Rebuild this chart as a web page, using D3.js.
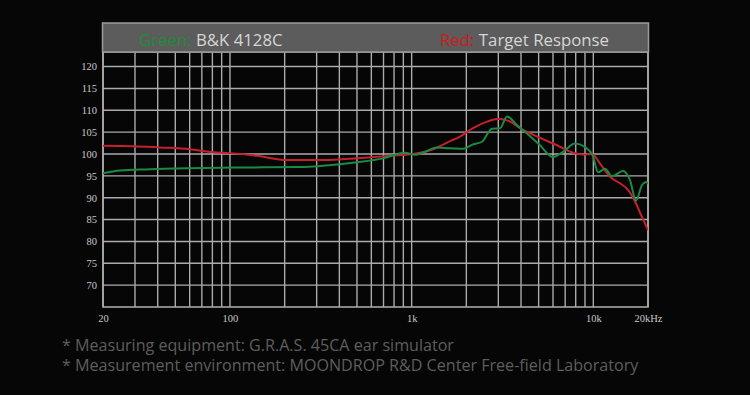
<!DOCTYPE html>
<html><head><meta charset="utf-8">
<script src="https://cdn.jsdelivr.net/npm/d3@7/dist/d3.min.js"></script>
<style>html,body{margin:0;padding:0;background:#060606;}svg{display:block;}</style>
</head><body>
<svg id="c" width="750" height="395"></svg>
<script>
// Data
const greenFreq = [20, 24.8, 36.3, 48.6, 104, 243, 325, 500, 696, 918, 1042, 1154, 1379, 1626, 1918, 2176, 2440, 2768, 3064, 3348, 3800, 4316, 5088, 5998, 6810, 7925, 8996, 9956, 10616, 11594, 12680, 14560, 15920, 17180, 18530, 19500, 20000];
const greenDb   = [95.6, 96.2, 96.5, 96.7, 96.9, 97.0, 97.3, 98.1, 99.0, 100.3, 99.8, 100.3, 101.5, 101.3, 101.2, 102.2, 102.8, 105.8, 105.9, 108.6, 106.6, 104.7, 102.0, 99.3, 100.5, 102.4, 101.6, 99.5, 95.8, 96.6, 94.9, 96.1, 94.0, 89.3, 92.9, 93.6, 93.2];
const redFreq = [20, 29.3, 41, 60, 81, 100, 141, 206, 325, 500, 760, 1017, 1310, 1585, 1846, 2176, 2600, 2986, 3348, 4100, 5088, 6310, 7730, 8770, 9830, 10890, 12360, 14030, 15520, 16950, 18530, 20000];
const redDb   = [101.9, 101.8, 101.5, 101.1, 100.4, 100.2, 99.6, 98.6, 98.6, 99.0, 99.6, 100.0, 101.1, 102.7, 104.0, 105.9, 107.4, 108.0, 107.7, 105.5, 103.7, 102.0, 100.3, 99.9, 100.0, 97.8, 94.8, 93.3, 91.8, 89.2, 85.6, 82.6];
const yTicks = [70, 75, 80, 85, 90, 95, 100, 105, 110, 115, 120];
const xGrid = [20,30,40,50,60,70,80,90,100,200,300,400,500,600,700,800,900,1000,2000,3000,4000,5000,6000,7000,8000,9000,10000,20000];
const xLabelVals = [20, 100, 1000, 10000, 20000];
const xLabelText = ["20", "100", "1k", "10k", "20kHz"];
const footnotes = ["* Measuring equipment: G.R.A.S. 45CA ear simulator",
                   "* Measurement environment: MOONDROP R&D Center Free-field Laboratory"];

const svg = d3.select("#c");
svg.append("rect").attr("width",750).attr("height",395).attr("fill","#060606");

const L = 103, R = 648, T = 52, B = 307;
const x = d3.scaleLog().domain([20, 20000]).range([L, R]);
const y = d3.scaleLinear().domain([65, 100]).range([B, 154]);

const gridCol = "#ababab";
const g = svg.append("g");
g.selectAll("line.h").data(yTicks).join("line")
  .attr("x1", L).attr("x2", R).attr("y1", d => y(d)).attr("y2", d => y(d))
  .attr("stroke", gridCol).attr("stroke-width", 1.4);
g.selectAll("line.v").data(xGrid).join("line")
  .attr("x1", d => x(d)).attr("x2", d => x(d)).attr("y1", T).attr("y2", B)
  .attr("stroke", gridCol).attr("stroke-width", 1.4);
g.append("rect").attr("x", L).attr("y", T).attr("width", R - L).attr("height", B - T)
  .attr("fill", "none").attr("stroke", "#b0b0b0").attr("stroke-width", 1.5);

// axes labels
const yAxis = d3.axisLeft(y).tickValues(yTicks).tickSize(0).tickPadding(6);
const ya = svg.append("g").attr("transform", `translate(${L},0)`).call(yAxis);
ya.select(".domain").remove();
ya.selectAll("text").attr("fill", "#c8c8c8").style("font-family", "'Liberation Serif', serif").style("font-size", "10.5px");

const xAxis = d3.axisBottom(x).tickValues(xLabelVals).tickSize(0).tickPadding(8)
  .tickFormat((d, i) => xLabelText[i]);
const xa = svg.append("g").attr("transform", `translate(0,${B})`).call(xAxis);
xa.select(".domain").remove();
xa.selectAll("text").attr("fill", "#c8c8c8").style("font-family", "'Liberation Serif', serif").style("font-size", "10.5px");

// curves
svg.append("clipPath").attr("id","clip").append("rect").attr("x",L).attr("y",T).attr("width",R-L).attr("height",B-T);
const line = d3.line().x(d => x(d[0])).y(d => y(d[1])).curve(d3.curveMonotoneX);
const cg = svg.append("g").attr("clip-path","url(#clip)");
cg.append("path").datum(redFreq.map((f, i) => [f, redDb[i]]))
  .attr("d", line).attr("fill", "none").attr("stroke", "#c8202a").attr("stroke-width", 2);
cg.append("path").datum(greenFreq.map((f, i) => [f, greenDb[i]]))
  .attr("d", line).attr("fill", "none").attr("stroke", "#1b8a42").attr("stroke-width", 2);

// header
svg.append("rect").attr("x", 102.5).attr("y", 23).attr("width", 546).attr("height", 29)
  .attr("fill", "#5c5c5c").attr("stroke", "#9a9a9a").attr("stroke-width", 1.5);
const hf = "'Open Sans', sans-serif";
const t1 = svg.append("text").attr("x", 139).attr("y", 45.5).style("font-family", hf).style("font-size", "16.8px");
t1.append("tspan").attr("fill", "#1c8c3a").text("Green: ");
t1.append("tspan").attr("fill", "#d6d6d6").text("B&K 4128C");
const t2 = svg.append("text").attr("x", 440).attr("y", 45.5).style("font-family", hf).style("font-size", "16.8px");
t2.append("tspan").attr("fill", "#cc1a1a").text("Red: ");
t2.append("tspan").attr("fill", "#d6d6d6").text("Target Response");

// footnotes
svg.selectAll("text.fn").data(footnotes).join("text")
  .attr("x", 62).attr("y", (d, i) => 351 + i * 20)
  .attr("fill", "#5e5e5e").style("font-family", hf).style("font-size", "16.1px")
  .text(d => d);
</script>
</body></html>
